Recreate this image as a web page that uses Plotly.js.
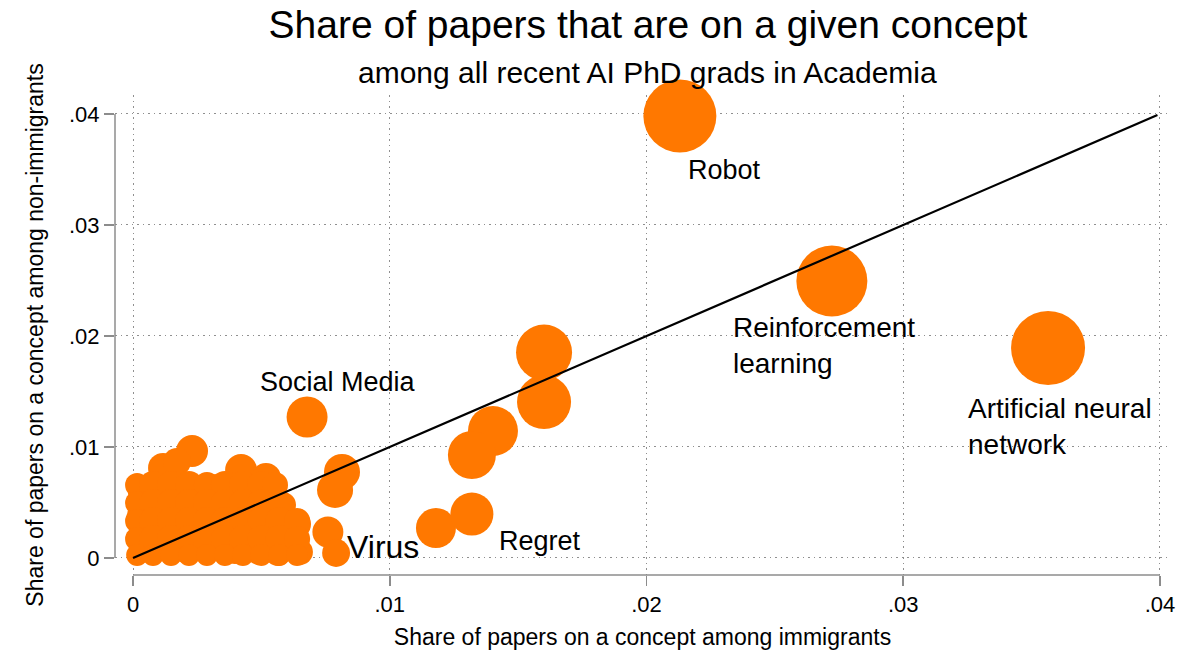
<!DOCTYPE html>
<html>
<head>
<meta charset="utf-8">
<script src="https://cdn.plot.ly/plotly-3.0.1.min.js"></script>
<style>html,body{margin:0;padding:0;background:#fff;}#chart{width:1202px;height:650px;}</style>
</head>
<body>
<div id="chart"></div>
<script>
// Share of papers on a concept among immigrants (x) and non-immigrants (y)
const immShare = [
  0.02130, 0.02722, 0.03564, 0.01601, 0.01601, 0.01402, 0.01320, 0.01180, 0.01320,
  0.00678, 0.00814, 0.00787, 0.00759, 0.00791,
  0.00230, 0.00117, 0.00171, 0.00027, 0.00327, 0.00421, 0.00518, 0.00635, 0.00650,
  0.00565, 0.00491, 0.00584, 0.00534, 0.00456, 0.00378, 0.00280, 0.00183, 0.00086,
  0.00019, 0.00019, 0.00027, 0.00105, 0.00203, 0.00300, 0.00397, 0.00086, 0.00183,
  0.00280, 0.00378, 0.00456, 0.00502, 0.00417,
  0.00016, 0.00078, 0.00148, 0.00218, 0.00288, 0.00358, 0.00428, 0.00499, 0.00553,
  0.00016, 0.00078, 0.00148, 0.00218, 0.00288, 0.00358, 0.00428, 0.00499, 0.00569,
  0.00016, 0.00078, 0.00148, 0.00218, 0.00288, 0.00358, 0.00428, 0.00499, 0.00569, 0.00639,
  0.00016, 0.00078, 0.00148, 0.00218, 0.00288, 0.00358, 0.00428, 0.00499, 0.00569, 0.00639,
  0.00016, 0.00078, 0.00148, 0.00218, 0.00288, 0.00358, 0.00428, 0.00499, 0.00569, 0.00639
];
const nonImmShare = [
  0.03982, 0.02495, 0.01892, 0.01851, 0.01405, 0.01144, 0.00928, 0.00270, 0.00396,
  0.01270, 0.00775, 0.00613, 0.00234, 0.00045,
  0.00964, 0.00811, 0.00865, 0.00595, 0.00631, 0.00793, 0.00721, 0.00306, 0.00054,
  0.00045, 0.00054, 0.00477, 0.00252, 0.00432, 0.00568, 0.00523, 0.00568, 0.00523,
  0.00387, 0.00162, 0.00027, 0.00072, 0.00054, 0.00072, 0.00054, 0.00297, 0.00297,
  0.00270, 0.00297, 0.00207, 0.00568, 0.00162,
  0.00658, 0.00658, 0.00658, 0.00658, 0.00658, 0.00658, 0.00658, 0.00658, 0.00658,
  0.00495, 0.00495, 0.00495, 0.00495, 0.00495, 0.00495, 0.00495, 0.00495, 0.00495,
  0.00333, 0.00333, 0.00333, 0.00333, 0.00333, 0.00333, 0.00333, 0.00333, 0.00333, 0.00333,
  0.00171, 0.00171, 0.00171, 0.00171, 0.00171, 0.00171, 0.00171, 0.00171, 0.00171, 0.00171,
  0.00027, 0.00027, 0.00027, 0.00027, 0.00027, 0.00027, 0.00027, 0.00027, 0.00027, 0.00027
];
// bubble weights (relative number of papers on the concept)
const weights = [
  53.3, 50.4, 54.8, 31.4, 29.2, 25.0, 23.0, 16.0, 18.5,
  16.8, 13.0, 13.0, 9.6, 7.8,
  10.2, 9.0, 7.8, 5.8, 7.8, 10.2, 9.0, 9.0, 6.8,
  6.8, 6.8, 6.8, 7.8, 7.8, 7.8, 9.0, 9.0, 7.8,
  4.8, 4.8, 3.2, 4.8, 4.8, 5.8, 5.8, 6.8, 7.8,
  7.8, 7.8, 6.8, 7.8, 5.8,
  5.8, 7.8, 7.8, 7.8, 6.8, 7.8, 7.8, 7.8, 6.8,
  5.8, 7.8, 7.8, 7.8, 7.8, 7.8, 7.8, 7.8, 6.8,
  5.8, 7.8, 7.8, 7.8, 7.8, 7.8, 7.8, 7.8, 7.8, 6.8,
  5.8, 7.8, 7.8, 7.8, 7.8, 7.8, 7.8, 7.8, 7.8, 6.8,
  4.8, 4.8, 4.8, 4.8, 4.8, 4.8, 4.8, 4.8, 4.8, 4.8
];
// 45-degree reference line
const lineX = [0, 0.0399];
const lineY = [0, 0.0399];

const tickValues = [0, 0.01, 0.02, 0.03, 0.04];
const tickLabels = ['0', '.01', '.02', '.03', '.04'];

const labelNames = ['Robot', 'Reinforcement<br>learning', 'Artificial neural<br>network', 'Social Media', 'Regret', 'Virus'];
const labelX = [0.02154, 0.02329, 0.03244, 0.00487, 0.01418, 0.00826];
const labelY = [0.03495, 0.01910, 0.01189, 0.01586, 0.00153, 0.00099];
const labelSize = [27, 28, 28, 27, 27, 32];

const FONT = '"Liberation Sans", Arial, Helvetica, sans-serif';
const ORANGE = '#ff7800';
const GRID = '#8f8f8f';
const AXIS = '#8c8c8c';

const traces = [
  {
    type: 'scatter', mode: 'markers',
    x: immShare, y: nonImmShare,
    cliponaxis: false,
    marker: { size: weights, sizemode: 'area', sizeref: 0.02, color: ORANGE, opacity: 1, line: { width: 0 } },
    hoverinfo: 'x+y', showlegend: false
  },
  {
    type: 'scatter', mode: 'lines',
    x: lineX, y: lineY,
    line: { color: '#000000', width: 2.2 },
    hoverinfo: 'skip', showlegend: false
  }
];

const annotations = labelNames.map((t, i) => ({
  text: t, x: labelX[i], y: labelY[i], xref: 'x', yref: 'y',
  xanchor: 'left', yanchor: 'middle', align: 'left', showarrow: false,
  font: { family: FONT, size: labelSize[i], color: '#000' }
}));
annotations.push({
  text: 'among all recent AI PhD grads in Academia',
  xref: 'paper', yref: 'paper', x: 0.505, y: (575 - 72) / 480,
  xanchor: 'center', yanchor: 'middle', showarrow: false,
  font: { family: FONT, size: 30, color: '#000' }
});

const layout = {
  width: 1202, height: 650,
  margin: { l: 115, r: 32, t: 95, b: 75 },
  paper_bgcolor: '#fff', plot_bgcolor: '#fff',
  font: { family: FONT, color: '#000' },
  title: {
    text: 'Share of papers that are on a given concept',
    font: { family: FONT, size: 39, color: '#000' },
    x: 648 / 1202, xanchor: 'center', y: 1 - 24 / 650, yanchor: 'middle'
  },
  xaxis: {
    range: [-0.000701, 0.04039],
    tickvals: tickValues, ticktext: tickLabels,
    ticks: 'outside', ticklen: 10, tickwidth: 1.5, tickcolor: AXIS,
    tickfont: { family: FONT, size: 22, color: '#000' },
    showgrid: true, gridcolor: GRID, gridwidth: 1, griddash: '2px,4px,1px,4px',
    zeroline: false, showline: false,
    title: { text: 'Share of papers on a concept among immigrants', font: { family: FONT, size: 23, color: '#000' }, standoff: 12 }
  },
  yaxis: {
    range: [-0.001532, 0.04171],
    tickvals: tickValues, ticktext: tickLabels,
    ticks: 'outside', ticklen: 10, tickwidth: 1.5, tickcolor: AXIS,
    tickfont: { family: FONT, size: 22, color: '#000' },
    showgrid: true, gridcolor: GRID, gridwidth: 1, griddash: '2px,4px,1px,4px',
    zeroline: false, showline: false,
    title: { text: 'Share of papers on a concept among non-immigrants', font: { family: FONT, size: 23, color: '#000' }, standoff: 18 }
  },
  shapes: [
    { type: 'line', xref: 'x', yref: 'paper', x0: tickValues[0], x1: tickValues[4], y0: 0, y1: 0, line: { color: AXIS, width: 1.5 } },
    { type: 'line', xref: 'paper', yref: 'y', x0: 0, x1: 0, y0: tickValues[0], y1: tickValues[4], line: { color: AXIS, width: 1.5 } }
  ],
  annotations: annotations,
  showlegend: false,
  hovermode: 'closest'
};

Plotly.newPlot('chart', traces, layout, { displayModeBar: false, staticPlot: true });
</script>
</body>
</html>
